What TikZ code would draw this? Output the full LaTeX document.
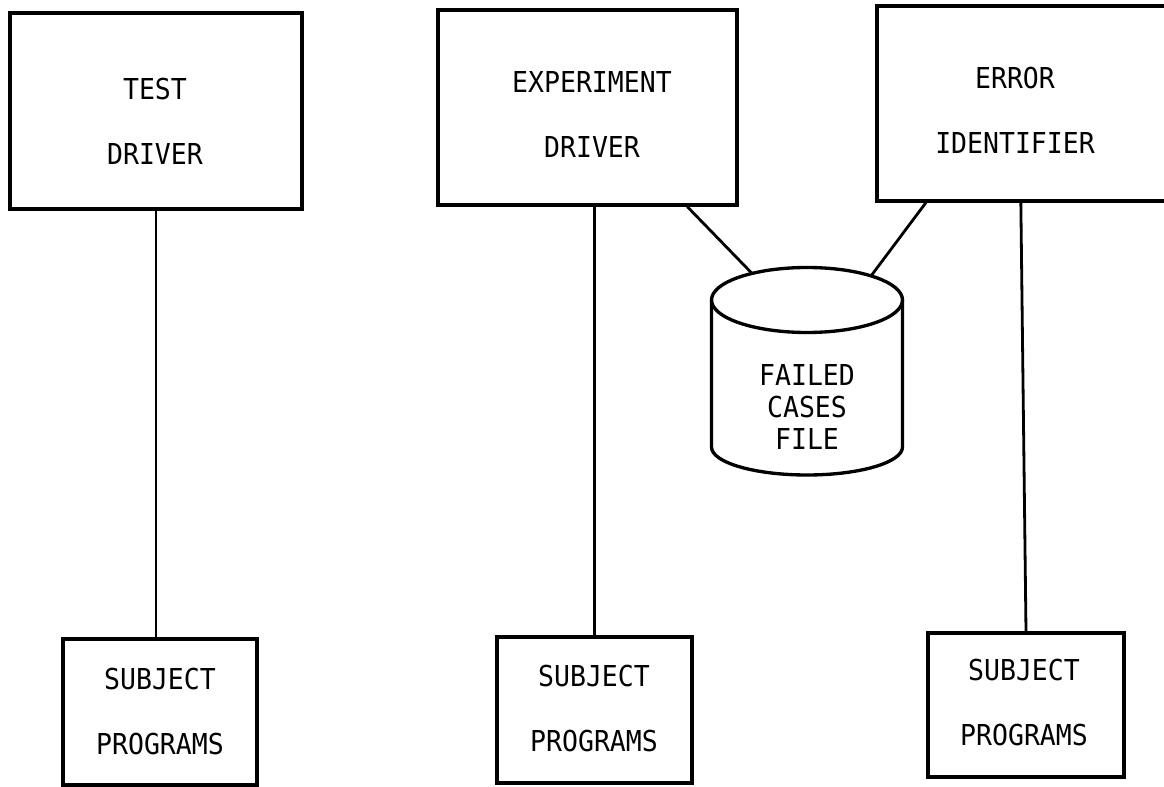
\documentclass[tikz,border=0pt]{standalone}
\usepackage{fontspec}
\newfontfamily\labelfont{DejaVu Sans Mono}[FakeStretch=0.92]
\usetikzlibrary{calc}

\tikzset{
  unitbox/.style={draw, line width=2.5pt, inner sep=0pt},
  boxtext/.style={align=center, inner sep=0pt,
    font=\labelfont\fontsize{21.6pt}{48.75pt}\selectfont},
  filetext/.style={align=center, inner sep=0pt,
    font=\labelfont\fontsize{21.6pt}{24pt}\selectfont},
  link/.style={line width=2.1pt},
}

\begin{document}
\begin{tikzpicture}[x=0.75pt, y=-0.75pt]
  \clip (0,0) rectangle (1164,787);
  \useasboundingbox (0,0) rectangle (1164,787);

  % upper row: drivers and identifier
  \node[unitbox, minimum width=219pt,    minimum height=147pt]    (td) at (156,111)    {};
  \node[unitbox, minimum width=224.25pt, minimum height=146.25pt] (ed) at (587.5,107.5) {};
  \node[unitbox, minimum width=227.25pt, minimum height=146.25pt] (ei) at (1028.5,103.5) {};

  \node[boxtext] (tdt) at (155,121.5)  {TEST\\DRIVER};
  \node[boxtext] (edt) at (592,114.5)  {EXPERIMENT\\DRIVER};
  \node[boxtext] (eit) at (1015,110.5) {ERROR\\IDENTIFIER};

  % lower row: subject programs
  \node[unitbox, minimum width=145.5pt,  minimum height=109.5pt] (sp1) at (160,712)   {};
  \node[unitbox, minimum width=146.25pt, minimum height=109.5pt] (sp2) at (594.5,710) {};
  \node[unitbox, minimum width=147pt,    minimum height=108pt]   (sp3) at (1026,705)  {};

  \node[boxtext] (sp1t) at (160,711.5)  {SUBJECT\\PROGRAMS};
  \node[boxtext] (sp2t) at (594,708.5)  {SUBJECT\\PROGRAMS};
  \node[boxtext] (sp3t) at (1024,702.5) {SUBJECT\\PROGRAMS};

  % failed cases file (cylinder)
  \coordinate (dbtop) at (807,300);
  \draw[line width=2.5pt] (dbtop) ellipse [x radius=95.5, y radius=32.5];
  \draw[line width=2.5pt] (711.5,300) -- (711.5,447)
    arc [start angle=180, end angle=0, x radius=95.5, y radius=28]
    -- (902.5,300);
  \node[filetext] (dbt) at (807,407) {FAILED\\CASES\\FILE};
  \coordinate (rimL) at (752,273.4);
  \coordinate (rimR) at (871,276);

  % connectors
  \draw[link] (td.south) -- (td.south |- sp1.north);
  \draw[link] (sp2.north |- ed.south) -- (sp2.north);
  \draw[link] ($(ei.south west)!0.475!(ei.south east)$) -- (sp3.north);
  \draw[link] ($(ed.south west)!0.83!(ed.south east)$) -- (rimL);
  \draw[link] ($(ei.south west)!0.165!(ei.south east)$) -- (rimR);
\end{tikzpicture}
\end{document}
